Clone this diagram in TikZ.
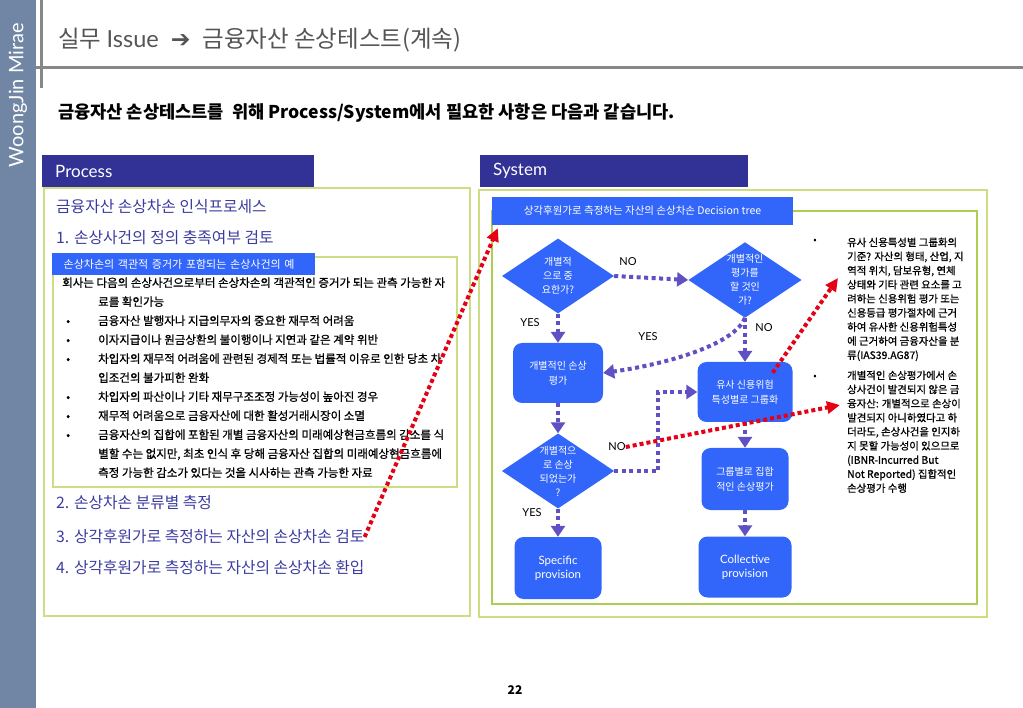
\documentclass[tikz,border=0pt]{standalone}
\usepackage{fontspec}
\setmainfont{Noto Sans CJK KR}
\newfontfamily\krbody{Noto Sans CJK KR}[FakeBold=0.8]
\newfontfamily\latfont{Lato}
\newfontfamily\symfont{DejaVu Sans}
\usepackage{xcolor}
\usetikzlibrary{calc,shapes.geometric,arrows.meta,positioning}

\definecolor{sidebar}{RGB}{112,134,164}
\definecolor{rulegrey}{RGB}{135,135,135}
\definecolor{titlegrey}{RGB}{85,85,85}
\definecolor{headblue}{RGB}{50,50,150}
\definecolor{framegreen}{RGB}{205,222,130}
\definecolor{innergreen}{RGB}{175,205,80}
\definecolor{stepblue}{RGB}{50,102,250}
\definecolor{flowpurple}{RGB}{95,80,195}
\definecolor{hintred}{RGB}{230,0,20}
\definecolor{headtext}{RGB}{60,60,160}

\newcommand\bul{\makebox[36pt][l]{\hspace*{4pt}•}}

\begin{document}
\begin{tikzpicture}[x=1pt,y=-1pt,
      hdr/.style={
            fill=headblue, text=white, anchor=north west,
            minimum height=32pt, inner xsep=13pt, inner ysep=0pt,
            align=left, font=\latfont\fontsize{17}{19}\selectfont
        },
      banner/.style={
            fill=stepblue, text=white, inner sep=0pt,
            font=\fontsize{10.5}{12}\selectfont
        },
      procline/.style={
            anchor=west, inner sep=0pt, text=headtext,
            font=\fontsize{15.8}{18}\selectfont
        },
      dia/.style={
            diamond, fill=stepblue, text=white, inner sep=0pt,
            shape aspect=1.5, minimum width=112pt, minimum height=75pt,
            align=center, font=\fontsize{10}{14}\selectfont
        },
      stepbox/.style={
            rectangle, rounded corners=9pt, fill=stepblue, text=white,
            inner sep=0pt, align=center, font=\fontsize{10}{15}\selectfont
        },
      provbox/.style={
            stepbox, font=\latfont\fontsize{11.5}{14}\selectfont
        },
      yesno/.style={inner sep=0pt, font=\latfont\fontsize{11}{13}\selectfont},
      note/.style={
            anchor=base west, inner sep=0pt, align=left,
            font=\krbody\fontsize{10.4}{14.1}\selectfont
        },
      flow/.style={
            draw=flowpurple, line width=4pt, dash pattern=on 4pt off 3.5pt,
            -{Triangle[width=14pt,length=11pt]}
        },
      hint/.style={
            draw=hintred, line width=4pt, dash pattern=on 4pt off 3pt,
            -{Triangle[width=12pt,length=13pt]}
        }
      ]
    \useasboundingbox (0,0) rectangle (1023,708);

    % page frame
    \fill[sidebar] (0,0) rectangle (36,708);
    \node[rotate=90, text=white, inner sep=0pt,
          font=\latfont\fontsize{20}{22}\selectfont] (brand) at (18,95) {WoongJin Mirae};
    \draw[rulegrey, line width=3pt] (41,0) -- (41,88);
    \draw[rulegrey, line width=3pt] (36,68) -- (1023,68);

    \node[anchor=west, inner sep=0pt, text=titlegrey, font=\fontsize{23.5}{26}\selectfont] (title)
        at (58,40) {실무 {\latfont Issue}\hspace{12pt}{\symfont\bfseries ➔}\hspace{12pt}금융자산 손상테스트(계속)};
    \node[anchor=west, inner sep=0pt, font=\bfseries\fontsize{17.6}{20}\selectfont] (lead)
        at (58,113) {금융자산 손상테스트를\ \ 위해 Process/System에서 필요한 사항은 다음과 같습니다.};

    % frames
    \draw[framegreen, line width=1.2pt] (44,188) rectangle (470,616);
    \draw[framegreen, line width=1.2pt] (53,257) rectangle (457,487);
    \draw[framegreen, line width=1.2pt] (479,190) rectangle (987,617);
    \draw[innergreen, line width=1.4pt] (492,211) rectangle (977,604);

    \node[hdr, text width=246pt] (prochdr) at (42,155) {Process};
    \node[hdr, text width=242pt] (syshdr) at (480,155) {System};

    % Process
    \node[procline] (recog) at (56,207) {금융자산 손상차손 인식프로세스};
    \node[procline] (item1) at (56,238) {1. 손상사건의 정의 충족여부 검토};
    \node[banner, anchor=north west, minimum width=263pt, minimum height=22pt,
          text width=240pt, align=left, font=\fontsize{11}{12}\selectfont] (evid)
        at (52,253) {손상차손의 객관적 증거가 포함되는 손상사건의 예};
    \node[anchor=base west, inner sep=0pt, align=left,
          font=\krbody\fontsize{11.5}{19}\selectfont] (cases) at (62,477)
        {회사는 다음의 손상사건으로부터 손상차손의 객관적인 증거가 되는 관측 가능한 자\\
         \hspace*{36pt}료를 확인가능\\
         \bul 금융자산 발행자나 지급의무자의 중요한 재무적 어려움\\
         \bul 이자지급이나 원금상환의 불이행이나 지연과 같은 계약 위반\\
         \bul 차입자의 재무적 어려움에 관련된 경제적 또는 법률적 이유로 인한 당초 차\\
         \hspace*{36pt}입조건의 불가피한 완화\\
         \bul 차입자의 파산이나 기타 재무구조조정 가능성이 높아진 경우\\
         \bul 재무적 어려움으로 금융자산에 대한 활성거래시장이 소멸\\
         \bul 금융자산의 집합에 포함된 개별 금융자산의 미래예상현금흐름의 감소를 식\\
         \hspace*{36pt}별할 수는 없지만, 최초 인식 후 당해 금융자산 집합의 미래예상현금흐름에\\
         \hspace*{36pt}측정 가능한 감소가 있다는 것을 시사하는 관측 가능한 자료};
    \node[procline] (item2) at (56,503) {2. 손상차손 분류별 측정};
    \node[procline] (item3) at (56,537) {3. 상각후원가로 측정하는 자산의 손상차손 검토};
    \node[procline] (item4) at (56,568) {4. 상각후원가로 측정하는 자산의 손상차손 환입};

    % System: decision tree
    \node[banner, minimum width=301pt, minimum height=28pt] (tree)
        at (642.5,211) {상각후원가로 측정하는 자산의 손상차손 Decision tree};

    \node[dia] (signif) at (558,276) {개별적\\으로 중\\요한가?};
    \node[dia] (indiv) at (745,280) {개별적인\\평가를\\할 것인\\가?};
    \node[stepbox, minimum width=90pt, minimum height=60pt] (specassess) at (558,373) {개별적인 손상\\평가};
    \node[stepbox, minimum width=95pt, minimum height=60pt] (grouping) at (745,392) {유사 신용위험\\특성별로 그룹화};
    \node[dia] (impaired) at (558,471) {개별적으\\로 손상\\되었는가\\?};
    \node[stepbox, minimum width=87pt, minimum height=62pt] (collassess) at (745,479) {그룹별로 집합\\적인 손상평가};
    \node[provbox, minimum width=87pt, minimum height=62pt] (specific) at (558,568) {Specific\\provision};
    \node[provbox, minimum width=93pt, minimum height=61pt] (collective) at (745,567) {Collective\\provision};

    \node[yesno] (no1) at (628,262) {NO};
    \node[yesno] (yes1) at (530,323) {YES};
    \node[yesno] (yes2) at (648,337) {YES};
    \node[yesno] (no2) at (764,328) {NO};
    \node[yesno] (no3) at (617,447) {NO};
    \node[yesno] (yes3) at (532,513) {YES};

    \draw[flow] (signif.east) -- (indiv.west);
    \draw[flow] (signif.south) -- (specassess.north);
    \draw[flow] (indiv.south) -- (grouping.north);
    \draw[flow] (indiv.south) .. controls +(-10,25) and +(70,-10) .. (specassess.east);
    \draw[flow] (specassess.south) -- (impaired.north);
    \draw[flow] (impaired.east) -- ++(44,0) |- (grouping.west);
    \draw[flow] (grouping.south) -- (collassess.north);
    \draw[flow] (collassess.south) -- (collective.north);
    \draw[flow] (impaired.south) -- (specific.north);

    % notes
    \node[inner sep=0pt, font=\fontsize{10}{12}\selectfont] (dot1) at (815,241) {•};
    \node[note] (note1) at (847,359)
        {유사 신용특성별 그룹화의\\기준? 자산의 형태, 산업, 지\\역적 위치, 담보유형, 연체\\
         상태와 기타 관련 요소를 고\\려하는 신용위험 평가 또는\\신용등급 평가절차에 근거\\
         하여 유사한 신용위험특성\\에 근거하여 금융자산을 분\\류(IAS39.AG87)};
    \node[inner sep=0pt, font=\fontsize{10}{12}\selectfont] (dot2) at (815,377) {•};
    \node[note] (note2) at (847,492)
        {개별적인 손상평가에서 손\\상사건이 발견되지 않은 금\\융자산: 개별적으로 손상이\\
         발견되지 아니하였다고 하\\더라도, 손상사건을 인지하\\지 못할 가능성이 있으므로\\
         (IBNR-Incurred But\\Not Reported) 집합적인\\손상평가 수행};

    % red pointers
    \coordinate (tip1) at ($(tree.south west)+(6,3)$);
    \coordinate (tip2) at ($(note1.base west)+(-9,-81)$);
    \coordinate (tip3) at ($(note2.base west)+(-7,-87)$);
    \draw[hint] (item3.east) -- (tip1);
    \draw[hint] ($(grouping.north east)+(-20,11)$) -- (tip2);
    \draw[hint] (no3.east) -- (tip3);

    \node[inner sep=0pt, font=\bfseries\fontsize{12}{14}\selectfont] (page) at (515,690) {22};
  \end{tikzpicture}
\end{document}
